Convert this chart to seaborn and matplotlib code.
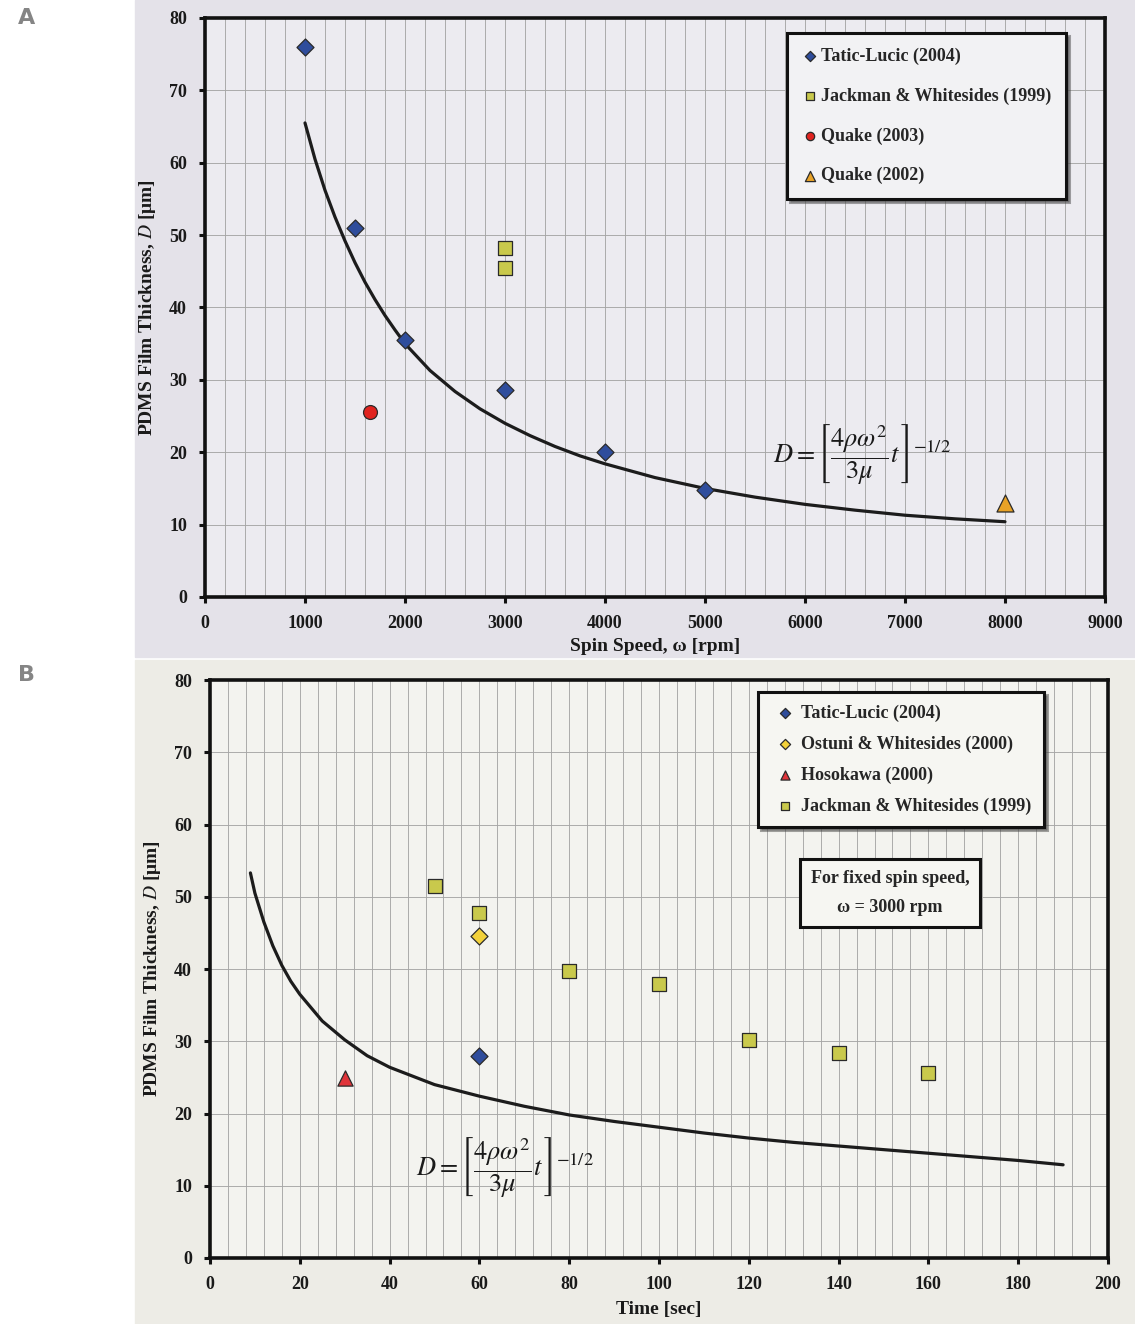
import matplotlib
matplotlib.use("Agg")
import matplotlib.pyplot as plt
from matplotlib.patches import Rectangle
from matplotlib.ticker import MultipleLocator
import seaborn as sns

# ---- panel A: thickness vs spin speed ----
tatic_rpm = [1000, 1500, 2000, 3000, 4000, 5000]
tatic_d = [76, 51, 35.5, 28.6, 20.1, 14.8]
jackman_rpm = [3000, 3000]
jackman_d = [48.2, 45.4]
quake03_rpm = [1650]
quake03_d = [25.6]
quake02_rpm = [8000]
quake02_d = [13]

# model curve
curve_rpm = [1000, 1100, 1200, 1300, 1400, 1500, 1600, 1700, 1800, 1900, 2000,
             2250, 2500, 2750, 3000, 3250, 3500, 3750, 4000, 4500, 5000, 5500,
             6000, 6500, 7000, 7500, 8000]
curve_d = [65.5, 60.5, 56.2, 52.5, 49.2, 46.2, 43.5, 41.1, 38.9, 36.9, 35.0,
           31.3, 28.4, 26.0, 24.0, 22.3, 20.8, 19.5, 18.4, 16.5, 15.0, 13.8,
           12.8, 12.0, 11.3, 10.8, 10.4]

# ---- panel B: thickness vs time ----
tatic_t = [60]
tatic_td = [27.9]
ostuni_t = [60]
ostuni_td = [44.6]
hoso_t = [30]
hoso_td = [24.9]
jack_t = [50, 60, 80, 100, 120, 140, 160]
jack_td = [51.5, 47.7, 39.7, 37.9, 30.2, 28.4, 25.6]

curve_t = [9, 10, 12, 14, 16, 18, 20, 25, 30, 35, 40, 50, 60, 70, 80, 90, 100,
           110, 120, 130, 140, 150, 160, 170, 180, 190]
curve_td = [53.3, 50.5, 46.5, 43.2, 40.5, 38.3, 36.5, 32.8, 30.2, 28.0, 26.4,
            24.0, 22.4, 21.0, 19.8, 18.9, 18.1, 17.3, 16.6, 16.0, 15.5, 15.0,
            14.5, 14.0, 13.5, 12.9]

sns.set_theme(style="white")
plt.rcParams['font.family'] = ['Liberation Serif', 'DejaVu Serif']
plt.rcParams['mathtext.fontset'] = 'stix'

W, H = 1135, 1324
fig = plt.figure(figsize=(W / 100, H / 100), dpi=100)
fig.patch.set_facecolor('white')

# photo backgrounds
fig.add_artist(Rectangle((135 / W, 1 - 657 / H), 1000 / W, 657 / H,
                         transform=fig.transFigure, color='#e4e2e9', zorder=0))
fig.add_artist(Rectangle((135 / W, 0), 1000 / W, 664 / H,
                         transform=fig.transFigure, color='#edece6', zorder=0))

fig.text(18 / W, 1 - 18 / H, 'A', fontsize=16, fontweight='bold', color='#858585',
         family='DejaVu Sans', va='center')
fig.text(18 / W, 1 - 675 / H, 'B', fontsize=16, fontweight='bold', color='#858585',
         family='DejaVu Sans', va='center')

axA = fig.add_axes([205 / W, 1 - 597 / H, 900 / W, 579 / H])
axB = fig.add_axes([210 / W, 1 - 1258 / H, 898 / W, 578 / H])

lab_font = dict(family='Liberation Serif', weight='bold', size=14)
leg_prop = dict(family='Liberation Serif', weight='bold', size=13)


def style_axes(ax, xmax, xmaj, xmin, face):
    ax.set_facecolor(face)
    ax.set_xlim(0, xmax)
    ax.set_ylim(0, 80)
    ax.xaxis.set_major_locator(MultipleLocator(xmaj))
    ax.xaxis.set_minor_locator(MultipleLocator(xmin))
    ax.yaxis.set_major_locator(MultipleLocator(10))
    ax.grid(which='both', axis='x', color='#a6a6a6', lw=0.65)
    ax.grid(which='major', axis='y', color='#a6a6a6', lw=0.65)
    ax.set_axisbelow(True)
    for s in ax.spines.values():
        s.set_visible(True)
        s.set_color('#111111')
        s.set_linewidth(2.6)
    ax.tick_params(which='major', direction='out', length=4, width=2.2,
                   color='#111111', pad=9, bottom=True, left=True)
    ax.tick_params(which='minor', length=0)
    for lbl in ax.get_xticklabels() + ax.get_yticklabels():
        lbl.set_fontfamily('Liberation Serif')
        lbl.set_fontweight('bold')
        lbl.set_fontsize(13)
        lbl.set_color('#1a1a1a')


style_axes(axA, 9000, 1000, 200, '#ecebf0')
style_axes(axB, 200, 20, 4, '#f3f3ef')

# curves
sns.lineplot(x=curve_rpm, y=curve_d, ax=axA, color='#1c1c1c', lw=2.3, zorder=3)
sns.lineplot(x=curve_t, y=curve_td, ax=axB, color='#1c1c1c', lw=2.3, zorder=3)

mk = dict(edgecolor='#2a2a2a', linewidth=0.9, zorder=4)
sns.scatterplot(x=tatic_rpm, y=tatic_d, ax=axA, marker='D', s=75, color='#2f4d9c',
                label='Tatic-Lucic (2004)', **mk)
sns.scatterplot(x=jackman_rpm, y=jackman_d, ax=axA, marker='s', s=110, color='#c9c94c',
                label='Jackman & Whitesides (1999)', **mk)
sns.scatterplot(x=quake03_rpm, y=quake03_d, ax=axA, marker='o', s=100, color='#e0231f',
                label='Quake (2003)', **mk)
sns.scatterplot(x=quake02_rpm, y=quake02_d, ax=axA, marker='^', s=150, color='#e8a226',
                label='Quake (2002)', **mk)

sns.scatterplot(x=tatic_t, y=tatic_td, ax=axB, marker='D', s=75, color='#2f4d9c',
                label='Tatic-Lucic (2004)', **mk)
sns.scatterplot(x=ostuni_t, y=ostuni_td, ax=axB, marker='D', s=75, color='#f2d13a',
                label='Ostuni & Whitesides (2000)', **mk)
sns.scatterplot(x=hoso_t, y=hoso_td, ax=axB, marker='^', s=120, color='#e0343a',
                label='Hosokawa (2000)', **mk)
sns.scatterplot(x=jack_t, y=jack_td, ax=axB, marker='s', s=110, color='#c9c94c',
                label='Jackman & Whitesides (1999)', **mk)

legA = axA.legend(loc='upper left', bbox_to_anchor=(787 / W, 1 - 33 / H),
                  bbox_transform=fig.transFigure, prop=leg_prop, frameon=True,
                  fancybox=False, shadow=True, edgecolor='#111111', facecolor='#f2f2f4',
                  markerscale=0.6, labelspacing=1.25, handletextpad=0.1,
                  handlelength=1.0, borderpad=0.8, borderaxespad=0, framealpha=1)
legA.get_frame().set_linewidth(2.2)
legB = axB.legend(loc='upper left', bbox_to_anchor=(758 / W, 1 - 692 / H),
                  bbox_transform=fig.transFigure, prop=leg_prop, frameon=True,
                  fancybox=False, shadow=True, edgecolor='#111111', facecolor='#f6f6f2',
                  markerscale=0.6, labelspacing=0.75, handletextpad=0.1,
                  handlelength=1.6, borderpad=0.7, borderaxespad=0, framealpha=1)
legB.get_frame().set_linewidth(2.2)

fig.text(890 / W, 1 - 893 / H, 'For fixed spin speed,\n\u03c9 = 3000 rpm', ha='center',
         va='center', fontsize=13, fontweight='bold', family='Liberation Serif',
         linespacing=1.9,
         bbox=dict(boxstyle='square,pad=0.6', facecolor='#f6f6f2', edgecolor='#111111',
                   lw=2.2))

eq = r'$D=\left[\dfrac{4\rho\omega^2}{3\mu}t\,\right]^{-1/2}$'
fig.text(862 / W, 1 - 455 / H, eq, ha='center', va='center', fontsize=19, color='#1a1a1a')
fig.text(505 / W, 1 - 1168 / H, eq, ha='center', va='center', fontsize=19, color='#1a1a1a')

axA.set_xlabel('Spin Speed, \u03c9 [rpm]', fontdict=lab_font, color='#1a1a1a', labelpad=4)
axB.set_xlabel('Time [sec]', fontdict=lab_font, color='#1a1a1a', labelpad=6)
for ax in (axA, axB):
    ax.set_ylabel('PDMS Film Thickness, $\\mathit{D}$ [\u03bcm]',
                  fontdict=lab_font, color='#1a1a1a', labelpad=8)

fig.savefig('out.png', dpi=100)
